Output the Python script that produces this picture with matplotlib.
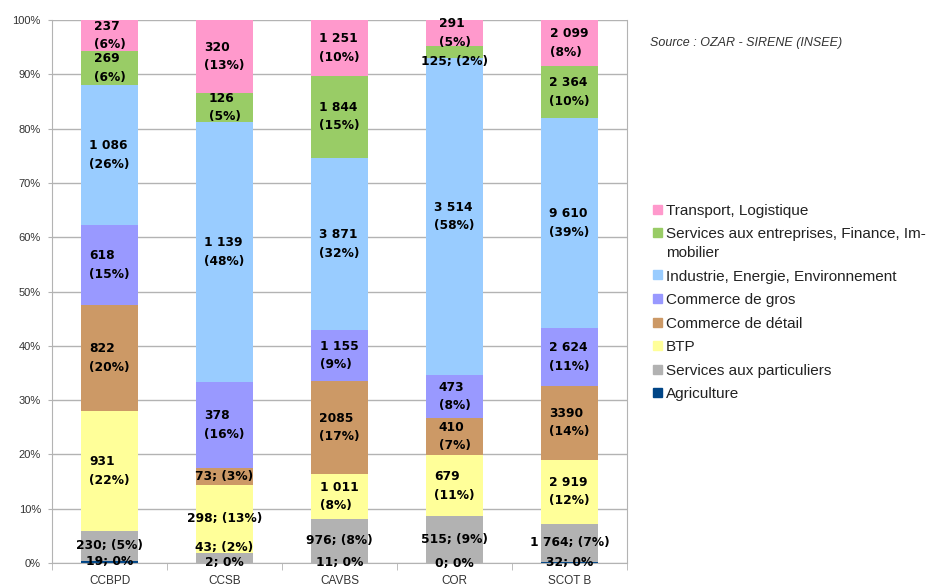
import numpy as np
import matplotlib
matplotlib.use("Agg")
import matplotlib.pyplot as plt
from matplotlib.patches import Rectangle

# categories (x axis)
categories = ["CCBPD", "CCSB", "CAVBS", "COR", "SCOT B"]

# series, bottom to top
series = ["Agriculture", "Services aux particuliers", "BTP", "Commerce de détail",
          "Commerce de gros", "Industrie, Energie, Environnement",
          "Services aux entreprises, Finance, Im-\nmobilier", "Transport, Logistique"]

agriculture = [19, 2, 11, 0, 32]
serv_part = [230, 43, 976, 515, 1764]
btp = [931, 298, 1011, 679, 2919]
comm_detail = [822, 73, 2085, 410, 3390]
comm_gros = [618, 378, 1155, 473, 2624]
industrie = [1086, 1139, 3871, 3514, 9610]
serv_entr = [269, 126, 1844, 125, 2364]
transport = [237, 320, 1251, 291, 2099]

lab_agriculture = ["19; 0%", "2; 0%", "11; 0%", "0; 0%", "32; 0%"]
lab_serv_part = ["230; (5%)", "43; (2%)", "976; (8%)", "515; (9%)", "1 764; (7%)"]
lab_btp = ["931\n(22%)", "298; (13%)", "1 011\n(8%)", "679\n(11%)", "2 919\n(12%)"]
lab_comm_detail = ["822\n(20%)", "73; (3%)", "2085\n(17%)", "410\n(7%)", "3390\n(14%)"]
lab_comm_gros = ["618\n(15%)", "378\n(16%)", "1 155\n(9%)", "473\n(8%)", "2 624\n(11%)"]
lab_industrie = ["1 086\n(26%)", "1 139\n(48%)", "3 871\n(32%)", "3 514\n(58%)", "9 610\n(39%)"]
lab_serv_entr = ["269\n(6%)", "126\n(5%)", "1 844\n(15%)", "125; (2%)", "2 364\n(10%)"]
lab_transport = ["237\n(6%)", "320\n(13%)", "1 251\n(10%)", "291\n(5%)", "2 099\n(8%)"]

colors = ["#004586", "#b2b2b2", "#ffff99", "#cc9966", "#9999ff", "#99ccff", "#99cc66", "#ff99cc"]

values = np.array([agriculture, serv_part, btp, comm_detail, comm_gros,
                   industrie, serv_entr, transport], dtype=float)
labels = [lab_agriculture, lab_serv_part, lab_btp, lab_comm_detail, lab_comm_gros,
          lab_industrie, lab_serv_entr, lab_transport]

# small nudges (points) where labels would overlap, like the original
nudge = {(1, 1): 7, (6, 3): -7}

shares = values / values.sum(axis=0) * 100
x = np.arange(len(categories))

fig = plt.figure(figsize=(9.31, 5.86), dpi=100)
ax = fig.add_axes([52 / 931, 23 / 586, 575 / 931, 543 / 586])

bottom = np.zeros(len(categories))
for i, name in enumerate(series):
    ax.bar(x, shares[i], 0.5, bottom=bottom, color=colors[i], zorder=2)
    for j in range(len(categories)):
        yc = bottom[j] + shares[i][j] / 2
        ax.annotate(labels[i][j], (x[j], yc), xytext=(0, nudge.get((i, j), 0)),
                    textcoords="offset points", ha="center", va="center",
                    multialignment="left", fontsize=8.8, fontweight="bold",
                    family="DejaVu Sans", linespacing=1.55, zorder=5,
                    annotation_clip=False)
    bottom += shares[i]

ax.set_xlim(-0.5, 4.5)
ax.set_ylim(0, 100)
ax.set_yticks(np.arange(0, 101, 10))
ax.set_yticklabels([f"{v}%" for v in range(0, 101, 10)])
ax.yaxis.grid(True, color="#b3b3b3", linewidth=1, zorder=0)
ax.set_xticks(x)
ax.set_xticklabels(categories)
ax.set_xticks(np.arange(-0.5, 5, 1), minor=True)
ax.tick_params(axis="x", which="major", length=0, pad=9, labelsize=8.5, labelcolor="#333333")
ax.tick_params(axis="x", which="minor", length=5, color="#b3b3b3")
ax.tick_params(axis="y", length=3, color="#b3b3b3", pad=5, labelsize=8, labelcolor="#333333")
for t in ax.get_xticklabels() + ax.get_yticklabels():
    t.set_family("Liberation Sans")
ax.spines["top"].set_visible(False)
for s in ["left", "right", "bottom"]:
    ax.spines[s].set_color("#b3b3b3")

# source note
fig.text(650 / 931, 1 - 43 / 586, "Source : OZAR - SIRENE (INSEE)", fontsize=9,
         style="italic", family="Liberation Sans", color="#333333", va="center")

# legend, top entry first; wrapped names drawn line by line
ypix = 209
for i in range(len(series) - 1, -1, -1):
    fig.patches.append(Rectangle((653 / 931, 1 - (ypix + 4.5) / 586), 9 / 931, 9 / 586,
                                 transform=fig.transFigure, color=colors[i]))
    for k, line in enumerate(series[i].split("\n")):
        fig.text(666 / 931, 1 - (ypix + 19 * k) / 586, line, fontsize=11,
                 family="Liberation Sans", color="#222222", va="center_baseline")
    ypix += 23.5 + 19 * series[i].count("\n")

fig.savefig("out.png", dpi=100)
